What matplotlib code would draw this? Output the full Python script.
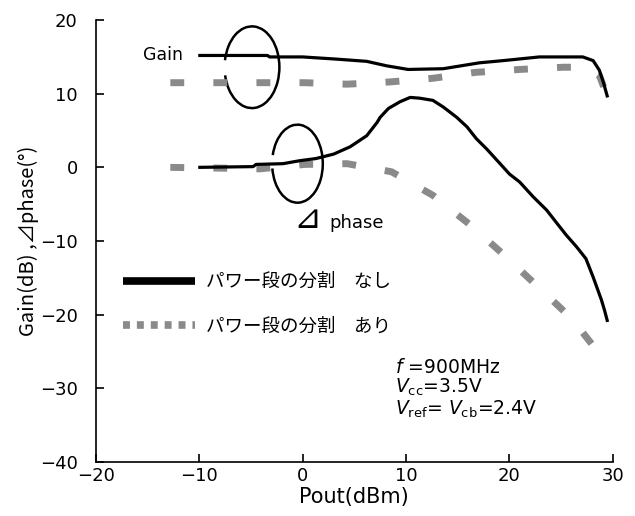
import numpy as np
import matplotlib
matplotlib.use("Agg")
import matplotlib.pyplot as plt
from matplotlib.patches import Arc
from matplotlib.lines import Line2D

plt.rcParams['font.family'] = ['DejaVu Sans', 'Noto Sans CJK JP']
plt.rcParams['mathtext.fontset'] = 'dejavusans'
plt.rcParams['lines.scale_dashes'] = False

# Gain, no power-stage split (solid)
gain_off_x = [-10.1, -3.4, -3.2, 0.0, 3.3, 6.2, 8.1, 10.2, 13.6, 17.1, 19.4, 22.9, 27.1, 28.1, 28.7, 29.1, 29.5]
gain_off_y = [15.2, 15.2, 15.0, 15.0, 14.7, 14.4, 13.8, 13.3, 13.4, 14.2, 14.5, 15.0, 15.0, 14.5, 13.2, 11.5, 9.5]

# Gain, with power-stage split (dashed)
gain_on_x = [-12.8, -8.2, -3.9, 0.2, 4.3, 8.4, 12.6, 16.7, 21.0, 25.2, 27.5, 28.7, 29.5]
gain_on_y = [11.5, 11.5, 11.5, 11.5, 11.3, 11.6, 12.1, 12.9, 13.3, 13.6, 13.6, 12.5, 9.5]

# Phase, no power-stage split (solid)
phase_off_x = [-10.1, -4.8, -4.5, -1.9, -0.3, 1.3, 3.0, 4.6, 6.2, 7.2, 7.5, 8.3, 9.4,
               10.4, 11.3, 12.6, 13.6, 14.9, 15.9, 16.8, 17.8, 19.1, 20.0, 21.0, 22.3,
               23.6, 24.6, 25.5, 26.5, 27.4, 28.1, 28.9, 29.2, 29.5]
phase_off_y = [0.0, 0.1, 0.4, 0.5, 0.9, 1.2, 1.8, 2.8, 4.3, 6.1, 6.8, 8.0, 8.9,
               9.5, 9.4, 9.1, 8.2, 6.8, 5.5, 3.9, 2.5, 0.5, -0.9, -2.0, -4.0,
               -5.8, -7.6, -9.2, -10.8, -12.4, -14.9, -18.0, -19.4, -21.0]

# Phase, with power-stage split (dashed)
phase_on_x = [-12.8, -8.2, -4.1, 0.2, 4.3, 8.6, 12.6, 16.2, 19.4, 22.6, 26.0, 28.7, 29.3]
phase_on_y = [0.0, -0.1, -0.2, 0.4, 0.5, -0.6, -3.8, -7.8, -11.8, -16.0, -20.5, -25.3, -27.0]

x_ticks = [-20, -10, 0, 10, 20, 30]
y_ticks = [-40, -30, -20, -10, 0, 10, 20]

legend_labels = ['パワー段の分割　なし', 'パワー段の分割　あり']

solid_kw = dict(color='black', lw=2.3, solid_capstyle='butt', solid_joinstyle='round')
dash_kw = dict(color='#8a8a8a', lw=5.0, dashes=(10, 21), dash_capstyle='butt')

fig = plt.figure(figsize=(6.35, 5.16), dpi=100)
ax = fig.add_axes([0.151, 0.105, 0.814, 0.856])

ax.plot(gain_on_x, gain_on_y, **dash_kw)
ax.plot(phase_on_x, phase_on_y, **dash_kw)
ax.plot(gain_off_x, gain_off_y, **solid_kw)
ax.plot(phase_off_x, phase_off_y, **solid_kw)

# open ellipses marking which pair of curves is gain / phase
ax.add_patch(Arc((-4.9, 13.6), 5.3, 11.1, theta1=-157, theta2=160, color='black', lw=1.8))
ax.add_patch(Arc((-0.5, 0.5), 4.9, 10.6, theta1=-165, theta2=154, color='black', lw=1.8))

cjk = ['Noto Sans CJK JP', 'DejaVu Sans']
ax.text(-11.6, 15.2, 'Gain', fontsize=12.5, ha='right', va='center')
ax.text(-0.9, -8.3, '⊿', fontsize=24, ha='left', va='baseline')
ax.text(2.6, -8.3, 'phase', fontsize=13, ha='left', va='baseline')

ax.text(8.9, -25.9,
        '$f$ =900MHz\n$V_{\\rm cc}$=3.5V\n$V_{\\rm ref}$= $V_{\\rm cb}$=2.4V',
        fontsize=13.5, ha='left', va='top', linespacing=1.0)

handles = [Line2D([], [], color='black', lw=5.5, solid_capstyle='butt'),
           Line2D([], [], color='#8a8a8a', lw=5.5, dashes=(5, 5), dash_capstyle='butt')]
ax.legend(handles, legend_labels, loc='upper left', bbox_to_anchor=(0.02, 0.465),
          frameon=False, handlelength=3.9, handletextpad=0.6,
          labelspacing=1.45, prop={'family': cjk, 'size': 13.3})

ax.set_xlim(-20, 30)
ax.set_ylim(-40, 20)
ax.set_xticks(x_ticks)
ax.set_yticks(y_ticks)
ax.set_xticklabels(['\u221220', '\u221210', '0', '10', '20', '30'], fontsize=13)
ax.set_yticklabels(['\u221240', '\u221230', '\u221220', '\u221210', '0', '10', '20'], fontsize=13)
ax.tick_params(direction='in', length=6, width=1.2)
ax.tick_params(axis='y', pad=13)
ax.tick_params(axis='x', pad=4)
for s in ['top', 'right']:
    ax.spines[s].set_visible(False)
for s in ['left', 'bottom']:
    ax.spines[s].set_linewidth(1.2)

ax.set_xlabel('Pout(dBm)', fontsize=15, labelpad=1)
ax.set_ylabel('Gain(dB) ,⊿phase(°)', fontsize=14.5, labelpad=1, family=cjk)

fig.savefig('out.png', dpi=100)
